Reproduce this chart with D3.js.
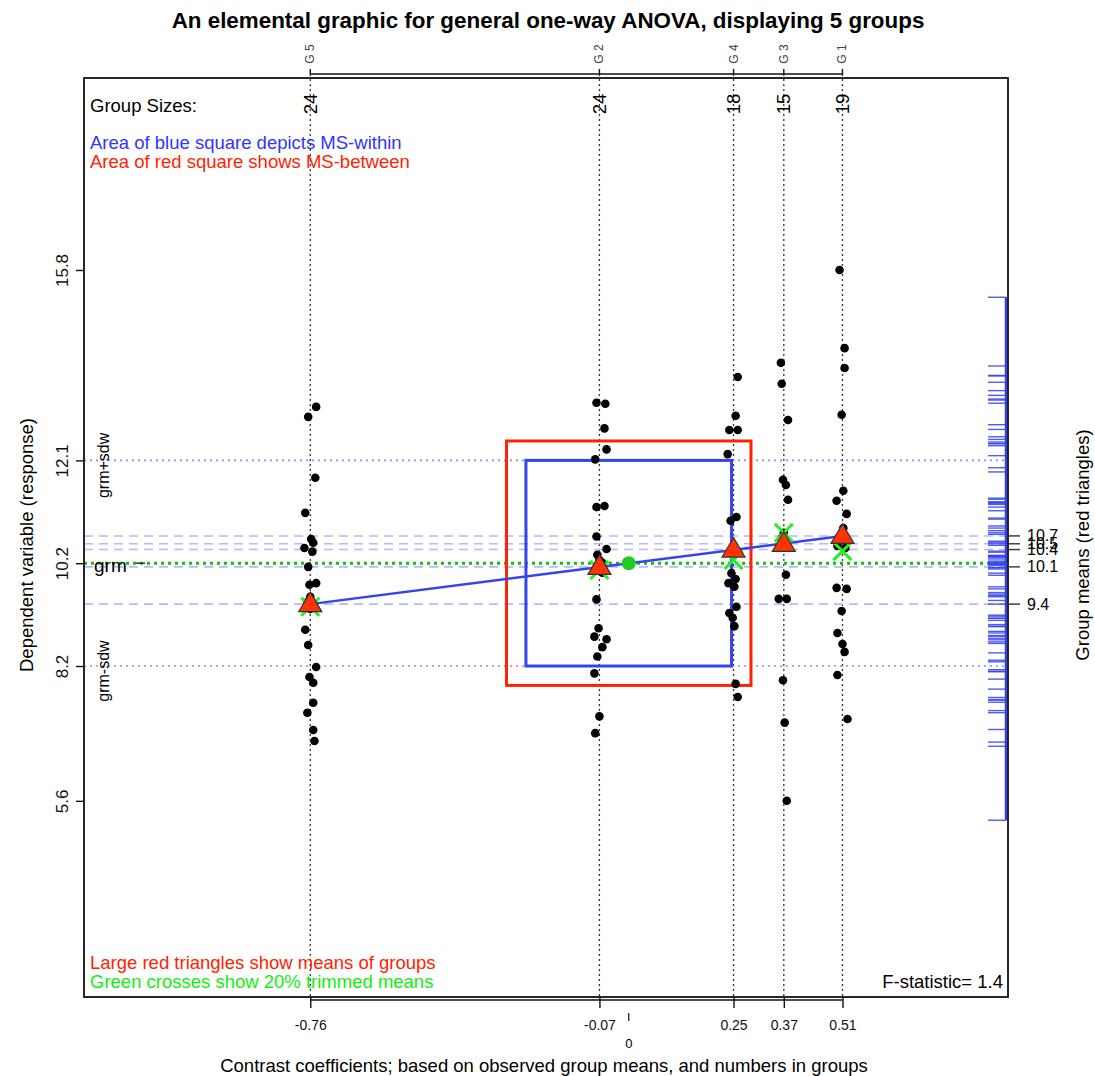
<!DOCTYPE html>
<html>
<head>
<meta charset="utf-8">
<script src="https://cdn.jsdelivr.net/npm/d3@7"></script>
<style>
  body { margin: 0; background: #fff; }
  text { font-family: "Liberation Sans", Arial, Helvetica, sans-serif; }
</style>
</head>
<body>
<div id="chart"></div>
<script>
// groups, in the order they sit along the contrast axis
const groupNames = ["G 5", "G 2", "G 4", "G 3", "G 1"];
const contrasts = [-0.76, -0.07, 0.25, 0.37, 0.51];
const groupMeans = [9.39, 10.10, 10.43, 10.54, 10.69];
const trimmedMeans = [9.34, 10.04, 10.23, 10.75, 10.40];
const grandMean = 10.17;
const sdWithin = 1.96;   // half side of blue square
const sdBetween = 2.33;  // half side of red square

// observations per group (response values) and their horizontal jitter (contrast units)
const g5 = [13.15, 12.96, 11.80, 11.13, 10.63, 10.56, 10.46, 10.39, 10.10, 9.79, 9.76, 9.53,
            9.43, 9.37, 9.30, 8.90, 8.61, 8.19, 8.00, 7.89, 7.51, 7.32, 6.99, 6.78];
const g5Jitter = [0.014, -0.005, 0.012, -0.012, 0.002, 0.007, -0.014, 0.005, -0.005, 0.014, -0.002, 0,
                  -0.007, 0.007, 0, -0.012, -0.005, 0.014, -0.002, 0.007, 0.007, -0.007, 0.007, 0.010];
const g2 = [13.23, 13.21, 12.74, 12.34, 12.15, 11.26, 11.24, 10.68, 10.44, 10.33, 10.23, 10.18,
            10.12, 10.06, 9.99, 9.48, 8.93, 8.77, 8.72, 8.57, 8.39, 8.07, 7.25, 6.93];
const g2Jitter = [-0.007, 0.014, 0.012, 0.017, -0.010, 0.012, -0.007, -0.007, 0.017, -0.005, 0, 0.007,
                  -0.005, 0.005, 0.007, -0.007, -0.002, -0.012, 0.017, 0.007, -0.005, -0.012, 0, -0.010];
const g4 = [13.72, 12.98, 12.71, 12.71, 12.25, 11.05, 10.98, 10.42, 9.98, 9.87, 9.79, 9.72,
            9.34, 9.22, 9.13, 8.97, 7.87, 7.62];
const g4Jitter = [0.010, 0.005, -0.010, 0.010, -0.014, 0.007, -0.007, 0, -0.005, 0.005, -0.012, 0.002,
                  0.007, -0.010, -0.002, 0.002, 0.005, 0.010];
const g3 = [13.99, 13.59, 12.90, 11.76, 11.66, 11.38, 10.75, 10.65, 10.54, 9.95, 9.49, 9.49,
            7.94, 7.13, 5.64];
const g3Jitter = [-0.007, -0.005, 0.010, -0.002, 0.005, 0.010, 0, -0.005, 0.005, 0.005, -0.012, 0.007,
                  -0.002, 0.002, 0.007];
const g1 = [15.76, 14.27, 13.89, 13.00, 11.55, 11.36, 11.11, 10.84, 10.61, 10.50, 10.46, 9.70,
            9.68, 9.26, 8.84, 8.63, 8.48, 8.04, 7.20];
const g1Jitter = [-0.007, 0.005, 0.005, -0.002, 0.002, -0.014, 0.010, 0.002, -0.005, -0.012, 0.007, -0.014,
                  0.010, -0.002, -0.012, 0, 0.005, -0.012, 0.012];

const groupValues = [g5, g2, g4, g3, g1];
const groupJitter = [g5Jitter, g2Jitter, g4Jitter, g3Jitter, g1Jitter];

const width = 1095, height = 1076;
const box = {left: 84, right: 1008, top: 78, bottom: 997};
const fmt = d => d.toFixed(1);

const svg = d3.select("#chart").append("svg")
    .attr("width", width)
    .attr("height", height);

const x = d3.scaleLinear().domain([-1.30, 0.905]).range([box.left, box.right]);
const y = d3.scaleLinear().domain([1.90, 19.42]).range([box.bottom, box.top]);

// flatten the data
const points = [];
groupValues.forEach((vals, gi) => {
    vals.forEach((v, i) => points.push({g: gi, v: v, j: groupJitter[gi][i]}));
});
const allVals = points.map(d => d.v);

// title
svg.append("text")
    .attr("x", 548).attr("y", 20)
    .attr("text-anchor", "middle")
    .attr("dominant-baseline", "central")
    .style("font-size", "22.4px")
    .style("font-weight", "bold")
    .text("An elemental graphic for general one-way ANOVA, displaying 5 groups");

// vertical dotted group lines
svg.append("g").selectAll("line")
    .data(contrasts)
    .join("line")
    .attr("x1", d => x(d)).attr("x2", d => x(d))
    .attr("y1", box.top - 4).attr("y2", box.bottom)
    .attr("stroke", "#333")
    .attr("stroke-width", 1.3)
    .attr("stroke-dasharray", "2,3");

// horizontal reference lines
const hl = svg.append("g");
// group mean dashed lines
hl.selectAll("line.mean")
    .data(groupMeans)
    .join("line")
    .attr("class", "mean")
    .attr("x1", box.left).attr("x2", box.right)
    .attr("y1", d => y(d)).attr("y2", d => y(d))
    .attr("stroke", "#b8b8ff")
    .attr("stroke-width", 1.6)
    .attr("stroke-dasharray", "9,6");
// grm +/- sdw
hl.selectAll("line.sdw")
    .data([grandMean + sdWithin, grandMean - sdWithin])
    .join("line")
    .attr("class", "sdw")
    .attr("x1", box.left).attr("x2", box.right)
    .attr("y1", d => y(d)).attr("y2", d => y(d))
    .attr("stroke", "#8c8cff")
    .attr("stroke-width", 1.6)
    .attr("stroke-dasharray", "2,4");
// grand mean
hl.append("line")
    .attr("x1", box.left).attr("x2", box.right)
    .attr("y1", y(grandMean)).attr("y2", y(grandMean))
    .attr("stroke", "#11c011")
    .attr("stroke-width", 3)
    .attr("stroke-dasharray", "3,4");

// squares centred on (0, grm)
const half = v => y(0) - y(v);
[[sdBetween, "#ff2200"], [sdWithin, "#3344ee"]].forEach(([s, col]) => {
    svg.append("rect")
        .attr("x", x(0) - half(s))
        .attr("y", y(grandMean + s))
        .attr("width", 2 * half(s))
        .attr("height", 2 * half(s))
        .attr("fill", "none")
        .attr("stroke", col)
        .attr("stroke-width", 3);
});

// data points
svg.append("g").selectAll("circle")
    .data(points)
    .join("circle")
    .attr("cx", d => x(contrasts[d.g] + d.j))
    .attr("cy", d => y(d.v))
    .attr("r", 4.3)
    .attr("fill", "#000");

// line through the group means
svg.append("line")
    .attr("x1", x(contrasts[0])).attr("y1", y(groupMeans[0]))
    .attr("x2", x(contrasts[4])).attr("y2", y(groupMeans[4]))
    .attr("stroke", "#3344ee")
    .attr("stroke-width", 2.5);

// green dot at grand mean
svg.append("circle")
    .attr("cx", x(0)).attr("cy", y(grandMean))
    .attr("r", 7)
    .attr("fill", "#22cc22");

// green crosses (trimmed means)
const cross = svg.append("g");
trimmedMeans.forEach((m, i) => {
    const cx = x(contrasts[i]), cy = y(m), a = 9;
    cross.append("path")
        .attr("d", `M${cx - a},${cy - a}L${cx + a},${cy + a}M${cx - a},${cy + a}L${cx + a},${cy - a}`)
        .attr("stroke", "#22ee22")
        .attr("stroke-width", 3)
        .attr("fill", "none");
});

// red triangles (group means)
svg.append("g").selectAll("path")
    .data(groupMeans)
    .join("path")
    .attr("d", (d, i) => {
        const cx = x(contrasts[i]), cy = y(d);
        return `M${cx},${cy - 12}L${cx + 11.5},${cy + 7.5}L${cx - 11.5},${cy + 7.5}Z`;
    })
    .attr("fill", "#ff3300")
    .attr("stroke", "#333")
    .attr("stroke-width", 1.2);

// rug of residuals on the right
const rugVals = points.map(d => d.v - groupMeans[d.g] + grandMean);
svg.append("g").selectAll("line")
    .data(rugVals)
    .join("line")
    .attr("x1", 988).attr("x2", box.right - 2)
    .attr("y1", d => y(d)).attr("y2", d => y(d))
    .attr("stroke", "#3340f0")
    .attr("stroke-opacity", 0.85)
    .attr("stroke-width", 1.4);
svg.append("line")
    .attr("x1", box.right - 2).attr("x2", box.right - 2)
    .attr("y1", y(d3.max(rugVals))).attr("y2", y(d3.min(rugVals)))
    .attr("stroke", "#3340f0")
    .attr("stroke-width", 2.5);

// plot box
svg.append("rect")
    .attr("x", box.left).attr("y", box.top)
    .attr("width", box.right - box.left)
    .attr("height", box.bottom - box.top)
    .attr("fill", "none")
    .attr("stroke", "#111")
    .attr("stroke-width", 1.8);

// top axis: group names
svg.append("line")
    .attr("x1", x(contrasts[0])).attr("x2", x(contrasts[4]))
    .attr("y1", box.top - 4).attr("y2", box.top - 4)
    .attr("stroke", "#111").attr("stroke-width", 1.6);
svg.append("g").selectAll("line")
    .data(contrasts)
    .join("line")
    .attr("x1", d => x(d)).attr("x2", d => x(d))
    .attr("y1", box.top - 4).attr("y2", box.top - 9)
    .attr("stroke", "#111").attr("stroke-width", 1.4);
svg.append("g").selectAll("text")
    .data(groupNames)
    .join("text")
    .attr("transform", (d, i) => `translate(${x(contrasts[i])},${box.top - 24}) rotate(-90)`)
    .attr("text-anchor", "middle")
    .attr("dominant-baseline", "central")
    .style("font-size", "12px")
    .style("fill", "#444")
    .text(d => d);

// group sizes
svg.append("text")
    .attr("x", 90).attr("y", 105)
    .attr("dominant-baseline", "central")
    .style("font-size", "18.5px")
    .text("Group Sizes:");
svg.append("g").selectAll("text")
    .data(groupValues)
    .join("text")
    .attr("transform", (d, i) => `translate(${x(contrasts[i])},${104}) rotate(-90)`)
    .attr("text-anchor", "middle")
    .attr("dominant-baseline", "central")
    .style("font-size", "18.5px")
    .text(d => d.length);

// notes
const notes = [
    {t: "Area of blue square depicts MS-within", c: "#3333ff", y: 142},
    {t: "Area of red square shows MS-between", c: "#ff2200", y: 161},
    {t: "Large red triangles show means of groups", c: "#ff2200", y: 962},
    {t: "Green crosses show 20% trimmed means", c: "#11ee11", y: 981}
];
svg.append("g").selectAll("text")
    .data(notes)
    .join("text")
    .attr("x", 90).attr("y", d => d.y)
    .attr("dominant-baseline", "central")
    .style("font-size", "18.5px")
    .style("fill", d => d.c)
    .text(d => d.t);

svg.append("text")
    .attr("x", 1003).attr("y", 981)
    .attr("text-anchor", "end")
    .attr("dominant-baseline", "central")
    .style("font-size", "18.5px")
    .text("F-statistic= " + fmt((sdBetween / sdWithin) ** 2));

// left axis: data extremes, grm and grm +/- sdw
const yTicks = [d3.min(allVals), grandMean - sdWithin, grandMean, grandMean + sdWithin, d3.max(allVals)];
const yAxis = svg.append("g")
    .attr("transform", `translate(${box.left},0)`)
    .call(d3.axisLeft(y).tickValues(yTicks).tickFormat(fmt).tickSize(8));
yAxis.select(".domain").remove();
yAxis.selectAll("line").attr("stroke", "#111").attr("stroke-width", 1.4);
yAxis.selectAll("text")
    .attr("x", 0)
    .attr("y", 0)
    .attr("dy", null)
    .attr("transform", "translate(-22,0) rotate(-90)")
    .attr("text-anchor", "middle")
    .attr("dominant-baseline", "central")
    .style("font-size", "17px")
    .style("font-family", "'Liberation Sans', Arial, sans-serif")
    .style("fill", "#111");

svg.append("text")
    .attr("transform", `translate(26,545) rotate(-90)`)
    .attr("text-anchor", "middle")
    .attr("dominant-baseline", "central")
    .style("font-size", "18.5px")
    .text("Dependent variable (response)");

// grm labels
[["grm+sdw", grandMean + sdWithin], ["grm-sdw", grandMean - sdWithin]].forEach(([t, v]) => {
    svg.append("text")
        .attr("transform", `translate(103,${y(v) + 5}) rotate(-90)`)
        .attr("text-anchor", "middle")
        .attr("dominant-baseline", "central")
        .style("font-size", "16px")
        .text(t);
});
svg.append("text")
    .attr("x", 94).attr("y", y(grandMean) + 2)
    .attr("dominant-baseline", "central")
    .style("font-size", "19px")
    .text("grm");
svg.append("line")
    .attr("x1", 136).attr("x2", 145)
    .attr("y1", y(grandMean)).attr("y2", y(grandMean))
    .attr("stroke", "#333").attr("stroke-width", 1.5);

// right axis: group means
const rAxis = svg.append("g").attr("transform", `translate(${box.right},0)`);
rAxis.selectAll("line")
    .data(groupMeans)
    .join("line")
    .attr("x1", 0).attr("x2", 12)
    .attr("y1", d => y(d)).attr("y2", d => y(d))
    .attr("stroke", "#333").attr("stroke-width", 1.4);
rAxis.selectAll("text")
    .data(groupMeans)
    .join("text")
    .attr("x", 19).attr("y", d => y(d))
    .attr("dominant-baseline", "central")
    .style("font-size", "16px")
    .text(d => fmt(d));

svg.append("text")
    .attr("transform", `translate(1082,545) rotate(-90)`)
    .attr("text-anchor", "middle")
    .attr("dominant-baseline", "central")
    .style("font-size", "18.5px")
    .text("Group means (red triangles)");

// bottom axis: contrast coefficients
svg.append("line")
    .attr("x1", x(contrasts[0])).attr("x2", x(contrasts[4]))
    .attr("y1", box.bottom + 3).attr("y2", box.bottom + 3)
    .attr("stroke", "#111").attr("stroke-width", 1.6);
const xAxis = svg.append("g")
    .attr("transform", `translate(0,${box.bottom})`)
    .call(d3.axisBottom(x).tickValues(contrasts).tickFormat(d => d.toFixed(2)).tickSize(11).tickPadding(12));
xAxis.select(".domain").remove();
xAxis.selectAll("line").attr("stroke", "#111").attr("stroke-width", 1.4);
xAxis.selectAll("text")
    .style("font-size", "14px")
    .style("font-family", "'Liberation Sans', Arial, sans-serif")
    .style("fill", "#111");

// zero mark
svg.append("line")
    .attr("x1", x(0)).attr("x2", x(0))
    .attr("y1", 1013).attr("y2", 1021)
    .attr("stroke", "#111").attr("stroke-width", 1.2);
svg.append("text")
    .attr("x", x(0)).attr("y", 1043)
    .attr("text-anchor", "middle")
    .attr("dominant-baseline", "central")
    .style("font-size", "13px")
    .text("0");

svg.append("text")
    .attr("x", 544).attr("y", 1065)
    .attr("text-anchor", "middle")
    .attr("dominant-baseline", "central")
    .style("font-size", "18.5px")
    .text("Contrast coefficients; based on observed group means, and numbers in groups");
</script>
</body>
</html>
